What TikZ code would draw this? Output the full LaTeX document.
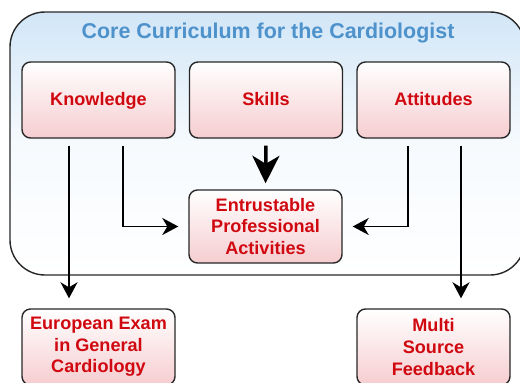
\documentclass[tikz,border=0pt]{standalone}
\usepackage{fontspec}
\setmainfont{Liberation Sans}
\usepackage{tikz}
\usetikzlibrary{positioning,arrows.meta,calc}
\usepackage{xcolor}

\definecolor{boxred}{RGB}{208,8,16}
\definecolor{titleblue}{RGB}{78,146,204}
\definecolor{skyfill}{RGB}{210,230,247}
\definecolor{pinkfill}{RGB}{246,205,208}
\definecolor{edgegray}{RGB}{40,40,40}

\begin{document}
\begin{tikzpicture}[
    topic/.style={draw=edgegray, line width=0.8pt, rounded corners=0.17cm,
      top color=white, bottom color=pinkfill, text=boxred,
      font=\bfseries\fontsize{10.3}{12.3}\selectfont, align=center,
      minimum width=\w cm, minimum height=\h cm, inner sep=0pt},
    oneline/.style={text height=1.55ex, text depth=0.45ex},
    flow/.style={line width=1.1pt, -{Stealth[length=0.32cm, width=0.34cm, inset=0.1cm]},
      shorten <=0.14cm, shorten >=0.2cm}
  ]

  % Box size
  \def\w{3.06}
  \def\h{1.52}

  \useasboundingbox (0,0) rectangle (10.4,7.64);

  % Curriculum frame
  \draw[edgegray, line width=0.8pt, rounded corners=0.7cm, top color=skyfill,
    bottom color=white, middle color=white!80!skyfill]
    (0.2,2.14) rectangle (10.5,7.4);
  \node[text=titleblue, font=\bfseries\fontsize{12.2}{14}\selectfont] (title) at (5.36,6.98)
    {Core Curriculum for the Cardiologist};

  % Boxes
  \node[topic, oneline] (know) at (1.97,5.64) {Knowledge};
  \node[topic, oneline] (skill) at (5.32,5.64) {Skills};
  \node[topic, oneline] (att) at (8.67,5.64) {Attitudes};
  \node[topic, minimum height=1.46cm] (epa) at (5.31,3.11)
    {Entrustable\\Professional\\Activities};
  \node[topic] (euro) at (1.97,0.70) {European Exam\\in General\\Cardiology};
  \node[topic] (msf) at (8.67,0.70) {Multi\\Source\\Feedback};

  % Arrows
  \draw[flow] ([xshift=-0.59cm]know.south) -- ([xshift=-0.59cm]know.south |- euro.north);
  \draw[flow] ([xshift=0.49cm]know.south) |- (epa.west);
  \draw[flow, line width=2pt, -{Stealth[length=0.55cm, width=0.54cm, inset=0.16cm]},
    shorten >=0.12cm] (skill.south) -- (epa.north);
  \draw[flow] ([xshift=-0.51cm]att.south) |- (epa.east);
  \draw[flow] ([xshift=0.55cm]att.south) -- ([xshift=0.55cm]att.south |- msf.north);

\end{tikzpicture}
\end{document}
